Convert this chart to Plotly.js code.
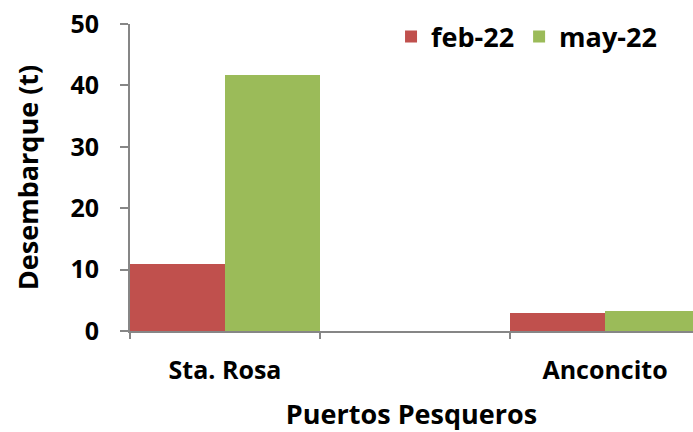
<!DOCTYPE html>
<html>
<head>
<meta charset="utf-8">
<script src="https://cdn.plot.ly/plotly-3.0.1.min.js"></script>
<style>html,body{margin:0;padding:0;background:#fff}#chart{width:693px;height:432px}</style>
</head>
<body>
<div id="chart"></div>
<script>
// Data
const categories = ["Sta. Rosa", " ", "Anconcito"];
const feb22 = [10.9, null, 2.9];
const may22 = [41.7, null, 3.3];
const seriesNames = ["feb-22", "may-22"];
const yTicks = [0, 10, 20, 30, 40, 50];

const FONT = "'Open Sans', Lato, 'Liberation Sans', sans-serif";
const traces = [
  {type: "bar", name: seriesNames[0], x: categories, y: feb22, marker: {color: "#C0504D"}},
  {type: "bar", name: seriesNames[1], x: categories, y: may22, marker: {color: "#9BBB59"}}
];
const layout = {
  width: 693, height: 432,
  margin: {l: 130, r: 0, t: 24, b: 101},
  paper_bgcolor: "#fff", plot_bgcolor: "#fff",
  font: {family: FONT, color: "#000", size: 18, weight: 700},
  barmode: "group", bargap: 0, bargroupgap: 0,
  showlegend: true,
  legend: {orientation: "h", x: 0.945, xanchor: "right", y: 0.958, yanchor: "middle",
           font: {size: 27, family: FONT, weight: 700}, itemwidth: 30, bgcolor: "rgba(0,0,0,0)"},
  xaxis: {
    type: "category", range: [-0.5, 2.463], fixedrange: true,
    showline: true, linecolor: "#868686", linewidth: 2,
    ticks: "outside", tickson: "boundaries", ticklen: 6, tickwidth: 2, tickcolor: "#868686",
    ticklabelstandoff: 16,
    tickfont: {size: 25, family: FONT, weight: 700},
    showgrid: false, zeroline: false,
    title: {text: "Puertos Pesqueros", font: {size: 27, family: FONT, weight: 700}, standoff: 21}
  },
  yaxis: {
    range: [0, 50], tickvals: yTicks, fixedrange: true,
    showline: true, linecolor: "#868686", linewidth: 2,
    ticks: "outside", ticklen: 8, tickwidth: 2, tickcolor: "#868686",
    ticklabelstandoff: 16,
    tickfont: {size: 25, family: FONT, weight: 700},
    showgrid: false, zeroline: false,
    title: {text: "Desembarque (t)", font: {size: 27, family: FONT, weight: 700}, standoff: 24}
  }
};
Plotly.newPlot("chart", traces, layout, {displayModeBar: false, staticPlot: true});
</script>
</body>
</html>
